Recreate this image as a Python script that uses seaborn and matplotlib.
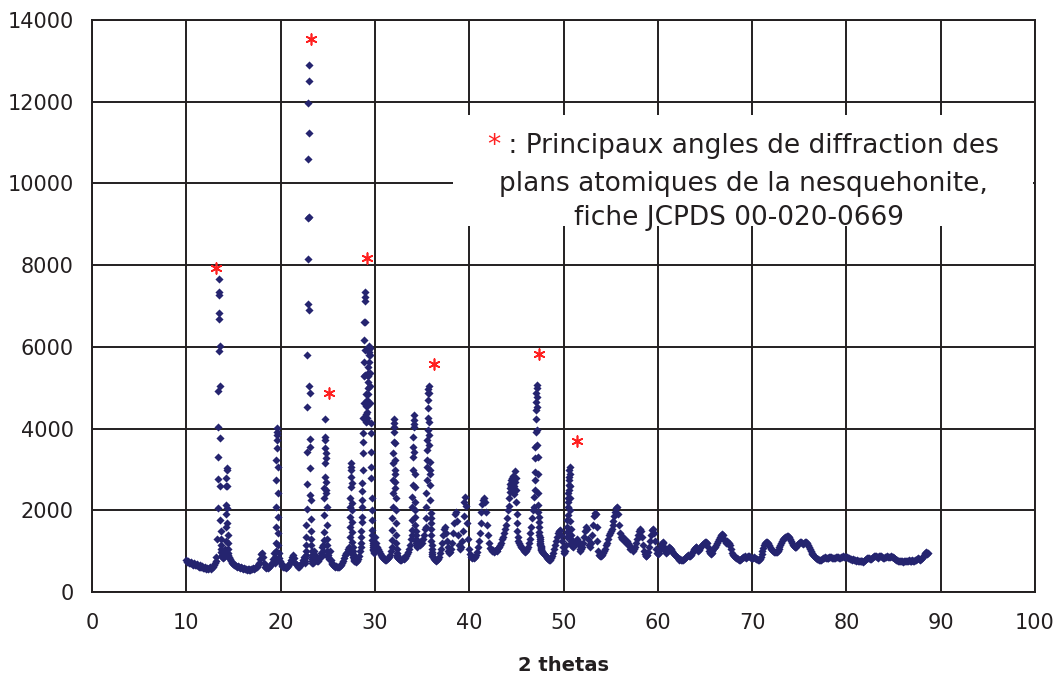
import numpy as np
import pandas as pd
import matplotlib
matplotlib.use("Agg")
import matplotlib.pyplot as plt
import seaborn as sns
from matplotlib.patches import Rectangle

# ---------------- data (2 theta in degrees, intensity in counts) ----------------
seg_start = [10.0, 13.30, 13.9, 14.10, 14.6, 19.40, 19.9, 22.60, 23.5, 24.50,
             25.1, 27.30, 27.9, 28.50, 30.0, 31.80, 32.5, 33.90, 34.6, 35.40,
             36.2, 44.20, 45.3, 46.90, 47.8, 50.36, 51.0, 62.5]
seg_step = [0.1, 0.02, 0.1, 0.02, 0.1, 0.02, 0.1, 0.02, 0.1, 0.02,
            0.1, 0.02, 0.1, 0.02, 0.1, 0.02, 0.1, 0.02, 0.1, 0.02,
            0.1, 0.04, 0.1, 0.02, 0.1, 0.02, 0.1, 0.1]

i_10_13 = [780, 740, 760, 720, 700, 730, 690, 670, 700, 660, 650, 680, 640, 620, 650, 610,
           600, 630, 590, 580, 610, 570, 590, 560, 580, 600, 570, 600, 620, 650, 700, 760, 850]
i_pk136 = [1300, 2050, 2770, 3300, 4050, 4930, 5900, 6680, 7270, 7660, 7350, 6840, 6030,
           5030, 3780, 2600, 1760, 1500, 1300, 1150, 1050, 980, 950, 900, 870, 850]
i_139_140 = [830, 860]
i_pk143 = [900, 950, 1050, 1250, 1600, 1920, 2130, 2600, 2800, 3030, 2990, 2600, 2050,
           1700, 1400, 1200, 1050, 950, 900, 850, 820]
i_146_193 = [800, 760, 720, 700, 680, 660, 650, 640, 620, 630, 600, 590, 610, 580, 570, 590,
             560, 570, 550, 560, 540, 560, 550, 570, 560, 580, 560, 590, 600, 620, 650, 700,
             800, 920, 960, 850, 700, 620, 600, 580, 600, 590, 620, 640, 680, 720, 800, 950]
i_pk196 = [700, 760, 850, 1000, 1190, 1600, 2090, 2740, 3230, 3720, 4010, 3920, 3840, 3520,
           3070, 2420, 1840, 1440, 1150, 950, 820]
i_199_225 = [750, 700, 660, 640, 620, 600, 620, 590, 610, 640, 680, 720, 780, 850, 900, 820,
             720, 680, 650, 620, 640, 620, 650, 680, 720, 780, 850]
i_pk230 = [700, 750, 820, 900, 1000, 1150, 1350, 1650, 2020, 2640, 3420, 4530, 5800, 7050,
           8140, 9160, 10610, 11980, 12900, 12510, 11230, 9190, 6900, 5030, 4880, 3750, 3560,
           3040, 2380, 2260, 1780, 1500, 1300, 1150, 1000, 900, 850, 800, 760, 720, 700]
i_235_244 = [1000, 900, 820, 780, 760, 750, 800, 850, 950, 1100]
i_pk247 = [900, 1000, 1150, 1270, 1480, 1880, 2290, 2540, 2820, 3150, 3520, 3800, 4230, 3720,
           3400, 3270, 2700, 2500, 2420, 2090, 1640, 1300, 1150, 1000, 900, 850]
i_251_272 = [800, 1000, 780, 720, 680, 660, 640, 620, 640, 610, 600, 620, 640, 660, 700, 760,
             820, 900, 950, 950, 1000, 1050]
i_pk275 = [1110, 1350, 1600, 1840, 2090, 2290, 2580, 2820, 2990, 3150, 3070, 2660, 2170, 2010,
           1720, 1480, 1230, 1100, 1000, 940, 900, 860, 820, 800, 780, 770]
i_279_284 = [760, 740, 760, 800, 880, 1000]
i_pk290 = [1100, 1200, 1350, 1500, 1720, 1840, 2090, 2250, 2460, 2660, 2990, 3400, 3680, 3880,
           4270, 4630, 5290, 5640, 6170, 6620, 7120, 7350, 7230, 6600, 5920, 5300, 4850, 4550,
           4350, 4220, 4150, 4180, 4250, 4400, 4550, 4700, 4850, 5000, 5150, 5290, 5370, 5500,
           5640, 5800, 5880, 5950, 6020, 5960, 5800, 5370, 5030, 4630, 4140, 3900, 3430, 3070,
           2780, 2290, 2010, 1760, 1520, 1400, 1270, 1200, 1150, 1100, 1060, 1030, 1000, 980, 960]
i_300_317 = [1350, 1200, 1100, 1050, 1000, 950, 900, 870, 850, 820, 800, 790, 780, 800, 820,
             850, 900, 1000]
i_pk320 = [1100, 1270, 1520, 1800, 2090, 2420, 2740, 3150, 3390, 3680, 3920, 4050, 4230, 4140,
           3640, 3230, 2990, 2880, 2700, 2540, 2300, 2000, 1680, 1400, 1200, 1050, 950, 900,
           870, 850, 830]
i_325_338 = [820, 800, 790, 780, 800, 820, 800, 830, 870, 920, 980, 1050, 1150, 1300]
i_pk342 = [1400, 1520, 1760, 2090, 2330, 2620, 2990, 3310, 3560, 3800, 4050, 4210, 4330, 4100,
           3430, 2900, 2580, 2210, 2000, 1840, 1650, 1500, 1400, 1300, 1250, 1200, 1180, 1150,
           1150, 1120, 1100]
i_346_353 = [1150, 1200, 1150, 1250, 1200, 1300, 1400, 1550]
i_pk357 = [1600, 1800, 2090, 2420, 2740, 3070, 3230, 3480, 3720, 3960, 4250, 4500, 4700, 4870,
           4960, 5030, 4870, 4170, 3840, 3600, 3190, 2990, 2900, 2620, 2250, 1930, 1800, 1700,
           1550, 1400, 1250, 1150, 1050, 980, 920, 880]
i_362_441 = [850, 800, 780, 760, 780, 800, 850, 950, 1050, 1200, 1400, 1550, 1600, 1450, 1250,
             1100, 1000, 950, 980, 1050, 1200, 1450, 1700, 1900, 1970, 1750, 1400, 1150, 1050,
             1100, 1250, 1500, 1850, 2200, 2330, 2100, 1700, 1300, 1050, 920, 860, 830, 850,
             820, 850, 900, 980, 1100, 1250, 1450, 1700, 1950, 2150, 2250, 2300, 2200, 1950,
             1650, 1400, 1200, 1080, 1050, 1000, 1020, 980, 1000, 1030, 1000, 1050, 1080, 1100,
             1150, 1200, 1300, 1350, 1450, 1550, 1650, 1800, 2000]
i_pk447 = [2100, 2300, 2550, 2450, 2650, 2600, 2750, 2650, 2800, 2700, 2850, 2600, 2700, 2500,
           2600, 2400, 2700, 2970, 2800, 2500, 2200, 1900, 1700, 1500, 1350, 1250]
i_453_468 = [1200, 1150, 1100, 1080, 1050, 1000, 980, 1000, 1050, 1100, 1200, 1300, 1450, 1600,
             1800, 2000]
i_pk472 = [2090, 2330, 2500, 2740, 2940, 3270, 3560, 3920, 4230, 4450, 4660, 4860, 4990, 5070,
           4780, 4540, 3960, 3600, 3310, 2900, 2420, 2130, 1970, 1840, 1720, 1600, 1480, 1400,
           1350, 1300, 1250, 1200, 1180, 1150, 1120, 1100, 1080, 1050, 1030, 1000, 980]
i_478_503 = [950, 920, 900, 880, 850, 830, 800, 790, 780, 820, 880, 950, 1050, 1150, 1250, 1350,
             1450, 1500, 1520, 1400, 1250, 1100, 1000, 950, 1000, 1150]
i_pk506 = [1350, 1480, 1600, 1760, 1880, 2090, 2210, 2290, 2420, 2500, 2620, 2740, 2820, 2990,
           3070, 2900, 2600, 2300, 2000, 1750, 1550, 1400, 1300, 1250, 1200, 1180, 1150, 1120]
i_510_624 = [1100, 1150, 1200, 1250, 1300, 1250, 1150, 1050, 1000, 1050, 1100, 1200, 1350, 1500,
             1600, 1550, 1300, 1150, 1100, 1200, 1400, 1650, 1850, 1940, 1900, 1600, 1250, 1000,
             900, 870, 880, 900, 950, 1000, 1050, 1150, 1200, 1300, 1400, 1450, 1500, 1550, 1650,
             1750, 1850, 1950, 2050, 2090, 1900, 1650, 1450, 1350, 1300, 1350, 1300, 1250, 1200,
             1250, 1200, 1150, 1100, 1050, 1100, 1050, 1000, 1050, 1100, 1200, 1300, 1400, 1500,
             1550, 1500, 1350, 1150, 1000, 920, 880, 870, 900, 980, 1100, 1250, 1400, 1520, 1550,
             1450, 1250, 1050, 950, 920, 950, 1050, 1150, 1200, 1230, 1200, 1100, 1000, 950, 980,
             1050, 1100, 1080, 1050, 1000, 950, 920, 900, 880, 850, 830, 800, 790, 800]
i_625_887 = [790, 780, 780, 800, 830, 850, 870, 900, 880, 870, 900, 950, 1000, 1050, 1080, 1100,
             1110, 1050, 1000, 1020, 1080, 1120, 1150, 1180, 1200, 1220, 1230, 1200, 1100, 1000,
             950, 920, 950, 1000, 1050, 1080, 1100, 1150, 1200, 1250, 1300, 1350, 1400, 1420,
             1400, 1300, 1250, 1200, 1250, 1200, 1150, 1200, 1150, 1050, 950, 900, 870, 850, 830,
             820, 800, 790, 780, 800, 820, 850, 860, 870, 850, 840, 860, 880, 870, 850, 830, 820,
             840, 850, 830, 810, 800, 790, 780, 800, 850, 920, 1000, 1080, 1150, 1200, 1220, 1230,
             1200, 1150, 1100, 1050, 1020, 1000, 980, 970, 980, 990, 1000, 1050, 1100, 1150, 1200,
             1250, 1300, 1320, 1340, 1350, 1360, 1370, 1350, 1300, 1250, 1200, 1150, 1120, 1110,
             1100, 1110, 1150, 1180, 1200, 1220, 1230, 1200, 1180, 1200, 1220, 1230, 1200, 1150,
             1100, 1050, 1000, 950, 920, 900, 880, 850, 830, 810, 800, 790, 780, 790, 800, 820,
             840, 850, 840, 830, 820, 830, 850, 860, 850, 840, 830, 820, 830, 850, 860, 850, 840,
             830, 850, 860, 870, 860, 850, 860, 865, 850, 830, 820, 810, 800, 790, 800, 790, 780,
             770, 780, 770, 760, 770, 760, 750, 750, 740, 760, 780, 800, 820, 830, 820, 800, 810,
             830, 850, 870, 880, 870, 850, 840, 850, 870, 880, 870, 850, 830, 840, 850, 860, 870,
             860, 850, 860, 870, 860, 850, 840, 820, 800, 790, 780, 770, 760, 750, 760, 750, 740,
             750, 760, 770, 760, 770, 780, 770, 760, 770, 780, 770, 760, 780, 790, 800, 820, 800,
             780, 800, 830, 860, 900, 950, 980, 960, 930, 950]

seg_values = [i_10_13, i_pk136, i_139_140, i_pk143, i_146_193, i_pk196, i_199_225, i_pk230,
              i_235_244, i_pk247, i_251_272, i_pk275, i_279_284, i_pk290, i_300_317, i_pk320,
              i_325_338, i_pk342, i_346_353, i_pk357, i_362_441, i_pk447, i_453_468, i_pk472,
              i_478_503, i_pk506, i_510_624, i_625_887]

# reference lines of nesquehonite (red asterisks)
star_theta = [13.12, 23.19, 25.17, 29.19, 36.27, 47.40, 51.40]
star_intensity = [7920, 13534, 4878, 8166, 5580, 5825, 3695]

x_ticks = [0, 10, 20, 30, 40, 50, 60, 70, 80, 90, 100]
y_ticks = [0, 2000, 4000, 6000, 8000, 10000, 12000, 14000]
x_label = "2 thetas"
note_line1 = " : Principaux angles de diffraction des"
note_line2 = "plans atomiques de la nesquehonite,"
note_line3 = "fiche JCPDS 00-020-0669"

# ---------------- build table ----------------
frames = []
for start, step, vals in zip(seg_start, seg_step, seg_values):
    xs = start + step * np.arange(len(vals))
    frames.append(pd.DataFrame({"two_theta": xs, "intensity": vals}))
df = pd.concat(frames, ignore_index=True)
stars = pd.DataFrame({"two_theta": star_theta, "intensity": star_intensity})

# ---------------- figure ----------------
sns.set_style("white")
plt.rcParams["font.family"] = ["DejaVu Sans"]
W, H = 1060, 677
fig = plt.figure(figsize=(W / 100, H / 100), dpi=100)
fig.patch.set_facecolor("white")
ax = fig.add_axes([92 / W, 1 - 592 / H, (1035 - 92) / W, (592 - 20) / H])

dark = "#231F20"
navy = "#25246F"

sns.scatterplot(data=df, x="two_theta", y="intensity", ax=ax, marker="D", s=17,
                color=navy, linewidth=0, zorder=3, legend=False)
sns.scatterplot(data=stars, x="two_theta", y="intensity", ax=ax, marker=(6, 2, 0), s=60,
                color="#FF2020", edgecolor="#FF2020", linewidth=1.2, zorder=4, legend=False)

ax.set_xlim(0, 100)
ax.set_ylim(0, 14000)
ax.set_xticks(x_ticks)
ax.set_yticks(y_ticks)
ax.set_xticklabels([str(v) for v in x_ticks])
ax.set_yticklabels([str(v) for v in y_ticks])
ax.grid(True, color=dark, linewidth=1.4, zorder=0)
ax.set_axisbelow(True)
for sp in ax.spines.values():
    sp.set_visible(True)
    sp.set_color(dark)
    sp.set_linewidth(1.4)
ax.tick_params(axis="both", direction="out", length=5, width=1.4, color=dark,
               labelsize=15, labelcolor=dark)
ax.tick_params(axis="y", pad=8)
ax.tick_params(axis="x", pad=10)
ax.set_xlabel(x_label, fontsize=14, fontweight="bold", color=dark, labelpad=17)
ax.set_ylabel("")

# white note box hiding the grid
box_x0 = (453 - 92) / (1035 - 92) * 100
box_x1 = (1033 - 92) / (1035 - 92) * 100
box_y0 = (592 - 226) / (592 - 20) * 14000
box_y1 = (592 - 115) / (592 - 20) * 14000
ax.add_patch(Rectangle((box_x0, box_y0), box_x1 - box_x0, box_y1 - box_y0,
                       facecolor="white", edgecolor="none", zorder=1))

fs = 19
cx = 743 / W
t_full = fig.text(cx, 1 - 153 / H, "*" + note_line1, ha="center", va="baseline", fontsize=fs)
fig.canvas.draw()
bb = t_full.get_window_extent()
t_full.remove()
fig.text(bb.x0 / W, 1 - 153 / H, "*", ha="left", va="baseline", fontsize=fs, color="#FF2020")
fig.text(bb.x1 / W, 1 - 153 / H, note_line1, ha="right", va="baseline", fontsize=fs, color=dark)
fig.text(cx, 1 - 191 / H, note_line2, ha="center", va="baseline", fontsize=fs, color=dark)
fig.text(739 / W, 1 - 225 / H, note_line3, ha="center", va="baseline", fontsize=fs, color=dark)

fig.savefig("out.png", dpi=100, facecolor="white")
